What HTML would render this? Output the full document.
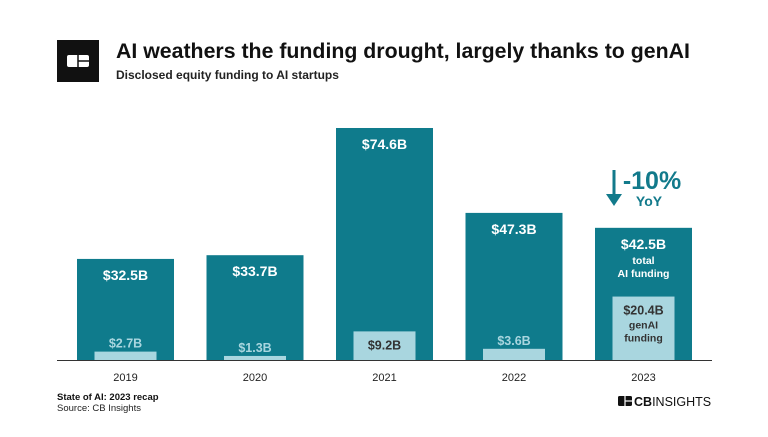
<!DOCTYPE html>
<html><head><meta charset="utf-8"><style>
body{margin:0;width:768px;height:432px;background:#fff;font-family:"Liberation Sans",sans-serif;overflow:hidden}
</style></head><body>
<svg id="chart" width="768" height="432" xmlns="http://www.w3.org/2000/svg">
<rect x="57" y="40" width="42" height="42" fill="#111"/>
<rect x="67" y="55" width="22" height="12" rx="2" fill="#fff"/>
<line x1="78" y1="55" x2="78" y2="67" stroke="#111" stroke-width="1.5"/>
<line x1="78" y1="61" x2="89" y2="61" stroke="#111" stroke-width="1.5"/>
<text x="116" y="58" font-size="21.3" font-weight="bold" fill="#111">AI weathers the funding drought, largely thanks to genAI</text>
<text x="116" y="79" font-size="12" font-weight="bold" fill="#222">Disclosed equity funding to AI startups</text>
<g id="bars"></g>
<line x1="57" y1="360.5" x2="712" y2="360.5" stroke="#333" stroke-width="1"/>
<line x1="614" y1="170" x2="614" y2="196" stroke="#127a8b" stroke-width="3"/>
<polygon points="606,194 622,194 614,206" fill="#127a8b"/>
<text x="652" y="189" text-anchor="middle" font-size="25" font-weight="bold" fill="#127a8b">-10%</text>
<text x="649" y="206" text-anchor="middle" font-size="14" font-weight="bold" fill="#127a8b">YoY</text>
<text x="57" y="400" font-size="9.5" font-weight="bold" fill="#111">State of AI: 2023 recap</text>
<text x="57" y="411" font-size="9.5" fill="#222">Source: CB Insights</text>
<g>
<rect x="618" y="396" width="14" height="10" rx="1.5" fill="#111"/>
<line x1="625" y1="396" x2="625" y2="406" stroke="#fff" stroke-width="1.2"/>
<line x1="625" y1="401" x2="632" y2="401" stroke="#fff" stroke-width="1.2"/>
<text x="634" y="406" font-size="12.5" fill="#111"><tspan font-weight="bold">CB</tspan>INSIGHTS</text>
</g>
</svg>
<script>
const years=["2019","2020","2021","2022","2023"];
const totals=[32.5,33.7,74.6,47.3,42.5];
const genai=[2.7,1.3,9.2,3.6,20.4];
const NS="http://www.w3.org/2000/svg";
const base=360, scale=3.11, x0=77, step=129.5, bw=97, iw=62;
const yS=v=>base-v*scale;
const g=document.getElementById('bars');
function mk(tag,a){const e=document.createElementNS(NS,tag);for(const k in a)e.setAttribute(k,a[k]);g.appendChild(e);return e;}
years.forEach((yr,i)=>{
  const x=x0+i*step, cx=x+bw/2;
  const b=mk('rect',{x:x,y:yS(totals[i]),width:bw,height:totals[i]*scale,fill:'#0f7b8c'});
  
  
  const ib=mk('rect',{x:cx-iw/2,y:yS(genai[i]),width:iw,height:genai[i]*scale,fill:'#a9d6df'});
  
  
  const last=i===years.length-1;
  const t=mk('text',{x:cx,y:yS(totals[i])+21,'text-anchor':'middle','font-size':14,'font-weight':'bold',fill:'#fff'});
  t.textContent='$'+totals[i].toFixed(1)+'B';
  
  
  if(last){
    const a=mk('text',{x:cx,y:yS(totals[i])+36,'text-anchor':'middle','font-size':10.5,'font-weight':'bold',fill:'#fff'});a.textContent='total';
    
    
    const c=mk('text',{x:cx,y:yS(totals[i])+49,'text-anchor':'middle','font-size':10.5,'font-weight':'bold',fill:'#fff'});c.textContent='AI funding';
    
    
  }
  const inside=genai[i]>=5;
  const gl=mk('text',{x:cx,y:inside?yS(genai[i])+18:yS(genai[i])-4,'text-anchor':'middle','font-size':12.5,'font-weight':'bold',fill:inside?'#333':'#a9d6df'});
  gl.textContent='$'+genai[i].toFixed(1)+'B';
  
  
  if(last){
    const a=mk('text',{x:cx,y:yS(genai[i])+32,'text-anchor':'middle','font-size':10.5,'font-weight':'bold',fill:'#333'});a.textContent='genAI';
    
    
    const c=mk('text',{x:cx,y:yS(genai[i])+45,'text-anchor':'middle','font-size':10.5,'font-weight':'bold',fill:'#333'});c.textContent='funding';
    
    
  }
  const yl=mk('text',{x:cx,y:381,'text-anchor':'middle','font-size':11,fill:'#222'});
  yl.textContent=yr;
  
  
});
</script>
</body></html>
